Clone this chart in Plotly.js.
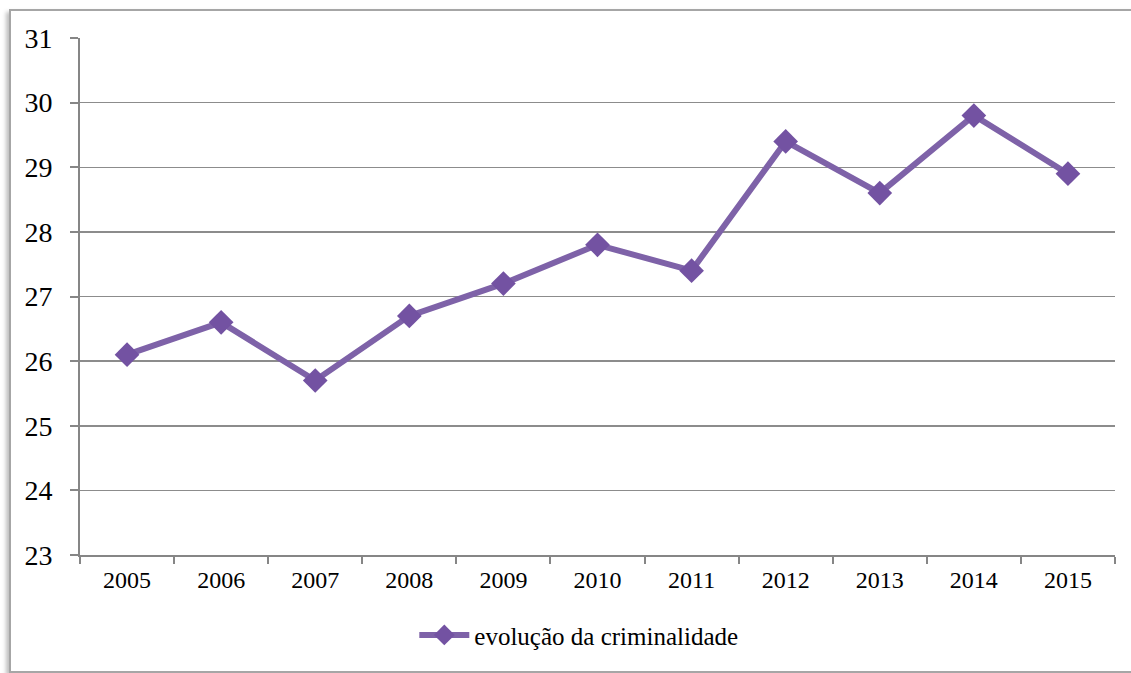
<!DOCTYPE html>
<html>
<head>
<meta charset="utf-8">
<script src="https://cdn.plot.ly/plotly-3.0.1.min.js"></script>
<style>
html,body{margin:0;padding:0;background:#fff;}
#frame{position:absolute;left:9px;top:9px;width:1130px;height:660px;border:2px solid #a6a6a6;box-shadow:-3px 3px 4px rgba(0,0,0,0.25);background:#fff;}
#chart{position:absolute;left:0;top:0;width:1131px;height:673px;}
</style>
</head>
<body>
<div id="frame"></div>
<div id="chart"></div>
<script>
const years = ['2005','2006','2007','2008','2009','2010','2011','2012','2013','2014','2015'];
const criminalidade = [26.1, 26.6, 25.7, 26.7, 27.2, 27.8, 27.4, 29.4, 28.6, 29.8, 28.9];
const seriesName = 'evolução da criminalidade';
const yTicks = [23,24,25,26,27,28,29,30,31];
const FONT = 'Liberation Serif';

const trace = {
  x: years,
  y: criminalidade,
  type: 'scatter',
  mode: 'lines+markers',
  name: seriesName,
  line: {color: '#7e62a8', width: 6},
  marker: {symbol: 'diamond', size: 19, color: '#7352a2', line: {width: 0}}
};

const layout = {
  width: 1131,
  height: 673,
  margin: {l: 80, r: 16, t: 38, b: 118},
  paper_bgcolor: 'rgba(0,0,0,0)',
  plot_bgcolor: 'rgba(0,0,0,0)',
  font: {family: FONT, color: '#000'},
  showlegend: true,
  legend: {
    orientation: 'h',
    x: 0.323, xanchor: 'left',
    y: -0.155, yanchor: 'middle',
    font: {size: 25, family: FONT, color: '#000'},
    bgcolor: 'rgba(0,0,0,0)',
    itemwidth: 50
  },
  xaxis: {
    type: 'category',
    range: [-0.5, 10.5],
    showline: true, linecolor: '#868686', linewidth: 2,
    ticks: 'outside', ticklen: 7, tickcolor: '#868686', tickwidth: 2,
    tickson: 'boundaries',
    showgrid: false,
    tickfont: {size: 24, family: FONT, color: '#000'},
    ticklabelstandoff: 2,
    zeroline: false
  },
  yaxis: {
    range: [23, 31],
    tickvals: yTicks,
    ticktext: yTicks.map(String),
    showline: true, linecolor: '#868686', linewidth: 2,
    ticks: 'outside', ticklen: 8, tickcolor: '#868686', tickwidth: 2,
    showgrid: true, gridcolor: '#8c8c8c', gridwidth: 1.5,
    tickfont: {size: 28, family: FONT, color: '#000'},
    ticklabelstandoff: 12,
    zeroline: false
  }
};

Plotly.newPlot('chart', [trace], layout, {displayModeBar: false, staticPlot: true});
</script>
</body>
</html>
